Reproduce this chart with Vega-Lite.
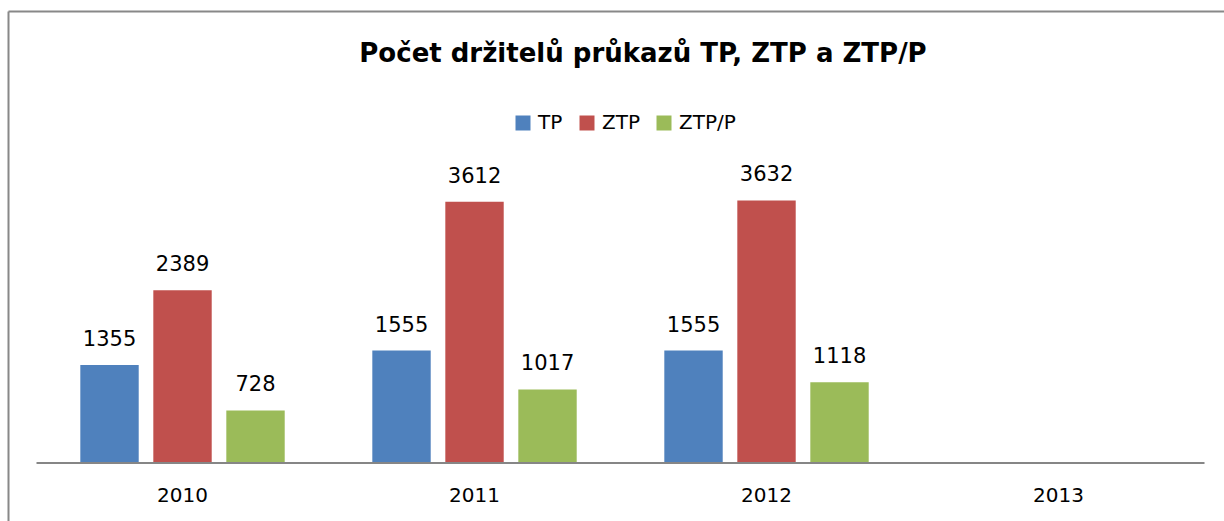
{
  "$schema": "https://vega.github.io/schema/vega-lite/v6.json",
  "width": 1216,
  "height": 510,
  "autosize": {"type": "none"},
  "padding": {"left": 8, "top": 11, "right": 0, "bottom": 0},
  "background": "white",
  "config": {"view": {"stroke": null}, "font": "DejaVu Sans"},
  "title": {
    "text": "Počet držitelů průkazů TP, ZTP a ZTP/P",
    "font": "DejaVu Sans",
    "fontSize": 26,
    "fontWeight": "bold",
    "color": "#000000",
    "anchor": "middle",
    "offset": -56,
    "dx": 27
  },
  "datasets": {
    "bars": [
      {"year": "2010", "series": "TP", "value": 1355},
      {"year": "2010", "series": "ZTP", "value": 2389},
      {"year": "2010", "series": "ZTP/P", "value": 728},
      {"year": "2011", "series": "TP", "value": 1555},
      {"year": "2011", "series": "ZTP", "value": 3612},
      {"year": "2011", "series": "ZTP/P", "value": 1017},
      {"year": "2012", "series": "TP", "value": 1555},
      {"year": "2012", "series": "ZTP", "value": 3632},
      {"year": "2012", "series": "ZTP/P", "value": 1118}
    ],
    "base": [{"from": "2010", "to": "2013"}]
  },
  "layer": [
    {
      "data": {"name": "bars"},
      "mark": {"type": "bar"},
      "encoding": {
        "x": {
          "field": "year",
          "type": "nominal",
          "scale": {"domain": ["2010", "2011", "2012", "2013"], "paddingInner": 0, "paddingOuter": 0.0822, "align": 0.594, "round": false},
          "axis": {"orient": "bottom", "offset": -58, "title": null, "domain": false, "ticks": false, "tickSize": 0, "labelFontSize": 20, "labelFont": "DejaVu Sans", "labelColor": "#000000", "labelPadding": 22, "labelAngle": 0}
        },
        "xOffset": {
          "field": "series",
          "type": "nominal",
          "scale": {"domain": ["TP", "ZTP", "ZTP/P"], "paddingInner": 0.2, "paddingOuter": 0.6}
        },
        "y": {
          "field": "value",
          "type": "quantitative",
          "scale": {"domain": [-802, 6252], "nice": false, "zero": false},
          "axis": {"orient": "left", "title": null, "labels": false, "ticks": false, "domain": true, "domainColor": "#888888", "domainWidth": 2, "grid": true, "gridColor": "#888888", "gridWidth": 2, "values": [6252]}
        },
        "color": {
          "field": "series",
          "type": "nominal",
          "scale": {"domain": ["TP", "ZTP", "ZTP/P"], "range": ["#4F81BD", "#C0504D", "#9BBB59"]},
          "legend": {"orient": "none", "legendX": 505, "legendY": 102, "direction": "horizontal", "title": null, "symbolType": "square", "symbolSize": 225, "symbolStrokeWidth": 0, "labelFontSize": 20, "labelFont": "DejaVu Sans", "labelColor": "#000000", "columnPadding": 14, "labelOffset": 5, "padding": 0}
        }
      }
    },
    {
      "data": {"name": "bars"},
      "mark": {"type": "text", "baseline": "alphabetic", "dy": -19, "fontSize": 21, "font": "DejaVu Sans", "color": "#000000"},
      "encoding": {
        "x": {"field": "year", "type": "nominal"},
        "xOffset": {"field": "series", "type": "nominal"},
        "y": {"field": "value", "type": "quantitative"},
        "text": {"field": "value", "type": "quantitative"}
      }
    },
    {
      "data": {"name": "base"},
      "mark": {"type": "rule", "color": "#868686", "strokeWidth": 2},
      "encoding": {
        "x": {"field": "from", "type": "nominal", "bandPosition": 0},
        "x2": {"field": "to", "bandPosition": 1},
        "y": {"datum": 0, "type": "quantitative"}
      }
    }
  ]
}
